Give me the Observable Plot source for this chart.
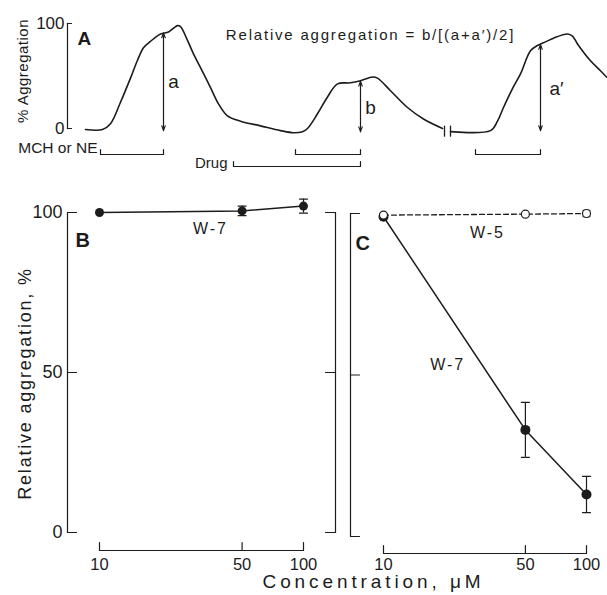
<!DOCTYPE html>
<html><head><meta charset="utf-8">
<script src="https://cdn.jsdelivr.net/npm/d3@7"></script>
<script src="https://cdn.jsdelivr.net/npm/@observablehq/plot@0.6"></script>
<style>
body{margin:0;background:#fff}
#fig{position:relative;width:607px;height:595px;font-family:"Liberation Sans",Arial,sans-serif}
#fig svg{position:absolute;left:0;top:0}
</style></head><body><div id="fig"></div>
<script>
// ---- Panel A: aggregation trace (time in arbitrary units, % aggregation)
const traceTime1 = [18,35,43,53,63,70,76,83,93,101,110,113,120,126,133,143,151,160,173,193,213,226,235,240,250,260,270,283,293,305,310,323,340,356,375];
const traceAgg1  = [-1,-1,4.5,25,48,65,77,83,90,92,98,97,84,71,58,39,23.5,12,7,2.5,-2,-4,-3,0,14,30,42.5,43.5,45.5,49,48,36,20,9,0];
const traceTime2 = [383,423,430,436,445,453,463,470,478,486,500,505,510,523,533,539];
const traceAgg2  = [-3,-2,7,20,38,52,74,79,82.5,86,90,88,80.5,64.5,55,49];
const breakTimes = [377, 383];
const arrowTimes = [96, 293, 473];
const arrowTop = [91, 45, 80];
const arrowBottom = [-2, -3, -2];
const arrowLabels = ["a", "b", "a′"];
const arrowLabelTime = [106, 303, 489];
const arrowLabelAgg = [44, 20, 38];
const agonistStart = [33, 228, 408];
const agonistEnd = [96, 293, 473];
const drugStart = [166];
const drugEnd = [293];
const aTicks = [0, 100];
// ---- Panels B, C: relative aggregation vs concentration (µM)
const conc = [10, 50, 100];
const bW7 = [100, 100.5, 102];
const bW7Err = [0, 1.5, 2.2];
const cW5 = [99.5, 99.8, 100];
const cW5Err = [0, 0, 1];
const cW7 = [99, 33, 13];
const cW7Err = [0, 8.5, 5.6];
const yTicks = [0, 50, 100];

const ink = "#1c1c1c";
const font = "'Liberation Sans', Arial, Helvetica, sans-serif";
const fig = document.getElementById("fig");
const tr = {style: {background: "transparent", overflow: "visible", color: ink, fontFamily: font}};
const tick = (o) => Plot.vector(o.data, {anchor: "start", shape: "spike", r: 0, fill: "none", stroke: ink, strokeWidth: 1.2, ...o});

// Panel A
const seg1 = traceTime1.map((t, i) => ({t, v: traceAgg1[i]}));
const seg2 = traceTime2.map((t, i) => ({t, v: traceAgg2[i]}));
const arrows = arrowTimes.map((t, i) => ({t, top: arrowTop[i], bottom: arrowBottom[i]}));
const arrLab = arrowLabels.map((l, i) => ({l, t: arrowLabelTime[i], v: arrowLabelAgg[i]}));
const agon = agonistStart.map((s, i) => ({s, e: agonistEnd[i]}));
const drug = drugStart.map((s, i) => ({s, e: drugEnd[i]}));

const plotA = Plot.plot({
  ...tr, width: 607, height: 595, marginLeft: 67, marginRight: 0, marginTop: 23, marginBottom: 467,
  x: {domain: [0, 540], axis: null},
  y: {domain: [0, 100], axis: null},
  marks: [
    Plot.frame({anchor: "left", stroke: ink, strokeWidth: 1.2}),
    tick({data: aTicks, y: d => d, frameAnchor: "left", rotate: 90, length: 4}),
    Plot.text(aTicks, {y: d => d, frameAnchor: "left", dx: -3, textAnchor: "end", text: d => String(d), fontSize: 17, fill: ink}),
    Plot.text(["% Aggregation"], {frameAnchor: "left", textAnchor: "middle", rotate: -90, dx: -44, dy: -5, fontSize: 15, text: d => d, fill: ink}),
    Plot.text(["A"], {frameAnchor: "top-left", dx: 10, dy: 8, textAnchor: "start", fontWeight: "bold", fontSize: 19, text: d => d, fill: ink}),
    Plot.text(["Relative aggregation = b/[(a+a′)/2]"], {frameAnchor: "top", textAnchor: "middle", dx: 33, dy: 6, fontSize: 15, text: d => d, fill: ink}),
    Plot.line(seg1, {x: "t", y: "v", curve: "catmull-rom", stroke: ink, strokeWidth: 1.6}),
    Plot.line(seg2, {x: "t", y: "v", curve: "catmull-rom", stroke: ink, strokeWidth: 1.6}),
    Plot.vector(breakTimes, {x: d => d, y: -2.5, length: 10, anchor: "middle", shape: "spike", r: 0, fill: "none", stroke: ink, strokeWidth: 1.3}),
    Plot.arrow(arrows, {x: "t", y1: "bottom", y2: "top", headLength: 7, headAngle: 40, stroke: ink, strokeWidth: 1.1}),
    Plot.arrow(arrows, {x: "t", y1: "top", y2: "bottom", headLength: 7, headAngle: 40, stroke: ink, strokeWidth: 1.1}),
    Plot.text(arrLab, {x: "t", y: "v", text: "l", fontSize: 19, fill: ink}),
    Plot.ruleY(agon, {x1: "s", x2: "e", y: 0, dy: 26, stroke: ink, strokeWidth: 1.2}),
    tick({data: agon.flatMap(d => [d.s, d.e]), x: d => d, y: 0, dy: 26, length: 5}),
    Plot.ruleY(drug, {x1: "s", x2: "e", y: 0, dy: 38, stroke: ink, strokeWidth: 1.2}),
    tick({data: drug.flatMap(d => [d.s, d.e]), x: d => d, y: 0, dy: 38, length: 5}),
    Plot.text(["MCH or NE"], {x: agonistStart[0], y: 0, dx: -3, dy: 20, textAnchor: "end", fontSize: 15.5, text: d => d, fill: ink}),
    Plot.text(["Drug"], {x: drugStart[0], y: 0, dx: -6, dy: 35, textAnchor: "end", fontSize: 15, text: d => d, fill: ink})
  ]
});

// Panel B
const bData = conc.map((c, i) => ({c, v: bW7[i], e: bW7Err[i]}));
const errMarks = (data, cap) => [
  Plot.ruleX(data.filter(d => d.e > 0), {x: "c", y1: d => d.v - d.e, y2: d => d.v + d.e, stroke: ink, strokeWidth: 1.2}),
  Plot.vector(data.filter(d => d.e > 0).flatMap(d => [{c: d.c, y: d.v - d.e}, {c: d.c, y: d.v + d.e}]), {x: "c", y: "y", rotate: 90, length: cap, anchor: "middle", shape: "spike", r: 0, fill: "none", stroke: ink, strokeWidth: 1.2})
];
const xBracket = (dyLine, dyText) => [
  Plot.ruleY([0], {x1: conc[0], x2: conc[conc.length - 1], dy: dyLine, stroke: ink, strokeWidth: 1.2}),
  tick({data: conc, x: d => d, y: 0, dy: dyLine, length: 8}),
  Plot.text(conc, {x: d => d, y: 0, dy: dyText, text: d => String(d), fontSize: 16.5, fill: ink})
];
const plotB = Plot.plot({
  ...tr, width: 607, height: 595, marginLeft: 67, marginRight: 272, marginTop: 212, marginBottom: 63,
  x: {type: "log", domain: [10, 100], insetLeft: 32, insetRight: 32, axis: null},
  y: {domain: [0, 100], axis: null},
  marks: [
    Plot.frame({anchor: "left", stroke: ink, strokeWidth: 1.2}),
    Plot.frame({anchor: "right", stroke: ink, strokeWidth: 1.2}),
    tick({data: yTicks, y: d => d, frameAnchor: "left", rotate: 90, length: 9}),
    tick({data: yTicks, y: d => d, frameAnchor: "right", rotate: -90, length: 10}),
    Plot.text(yTicks, {y: d => d, frameAnchor: "left", dx: -5, textAnchor: "end", text: d => String(d), fontSize: 18, fill: ink}),
    ...xBracket(18, 32),
    Plot.text(["Relative aggregation, %"], {frameAnchor: "left", textAnchor: "middle", rotate: -90, dx: -42, dy: 11, fontSize: 18, text: d => d, fill: ink}),
    Plot.text(["Concentration, μM"], {frameAnchor: "bottom", textAnchor: "middle", dx: 172, dy: 55.5, fontSize: 19, text: d => d, fill: ink}),
    Plot.text(["B"], {frameAnchor: "top-left", dx: 8, dy: 20, textAnchor: "start", fontWeight: "bold", fontSize: 20, text: d => d, fill: ink}),
    Plot.text(["W-7"], {x: 35, y: 95, fontSize: 16, text: d => d, fill: ink}),
    ...errMarks(bData, 8),
    Plot.line(bData, {x: "c", y: "v", stroke: ink, strokeWidth: 1.5}),
    Plot.dot(bData, {x: "c", y: "v", r: 4.5, fill: ink})
  ]
});

// Panel C
const c5 = conc.map((c, i) => ({c, v: cW5[i], e: cW5Err[i]}));
const c7 = conc.map((c, i) => ({c, v: cW7[i], e: cW7Err[i]}));
const plotC = Plot.plot({
  ...tr, width: 607, height: 595, marginLeft: 350, marginRight: 21, marginTop: 213, marginBottom: 59,
  x: {type: "log", domain: [10, 100], insetLeft: 33, axis: null},
  y: {domain: [0, 100], axis: null},
  marks: [
    Plot.frame({anchor: "left", stroke: ink, strokeWidth: 1.2}),
    tick({data: yTicks, y: d => d, frameAnchor: "left", rotate: 90, length: 9}),
    ...xBracket(17, 28),
    Plot.text(["C"], {frameAnchor: "top-left", dx: 5, dy: 22, textAnchor: "start", fontWeight: "bold", fontSize: 20, text: d => d, fill: ink}),
    Plot.text(["W-5"], {x: 32.5, y: 94, fontSize: 16, text: d => d, fill: ink}),
    Plot.text(["W-7"], {x: 20.7, y: 53, fontSize: 16, text: d => d, fill: ink}),
    ...errMarks(c7, 8),
    ...errMarks(c5, 7),
    Plot.line(c7, {x: "c", y: "v", stroke: ink, strokeWidth: 1.5}),
    Plot.line(c5, {x: "c", y: "v", stroke: ink, strokeWidth: 1.3, strokeDasharray: "5,3"}),
    Plot.dot(c7, {x: "c", y: "v", r: 5, fill: ink}),
    Plot.dot(c5, {x: "c", y: "v", r: 4, fill: "white", stroke: ink, strokeWidth: 1.2})
  ]
});

[plotA, plotB, plotC].forEach(p => fig.appendChild(p));

// letter spacing to match the typeset figure
const spacing = {"Relative aggregation = b/[(a+a′)/2]": 1.8, "Relative aggregation, %": 1.8, "Concentration, μM": 3.9, "W-7": 2, "W-5": 2, "% Aggregation": 0.5};
d3.select(fig).selectAll("text").each(function() {
  const s = spacing[this.textContent];
  if (s) this.setAttribute("letter-spacing", s);
});
</script></body></html>
